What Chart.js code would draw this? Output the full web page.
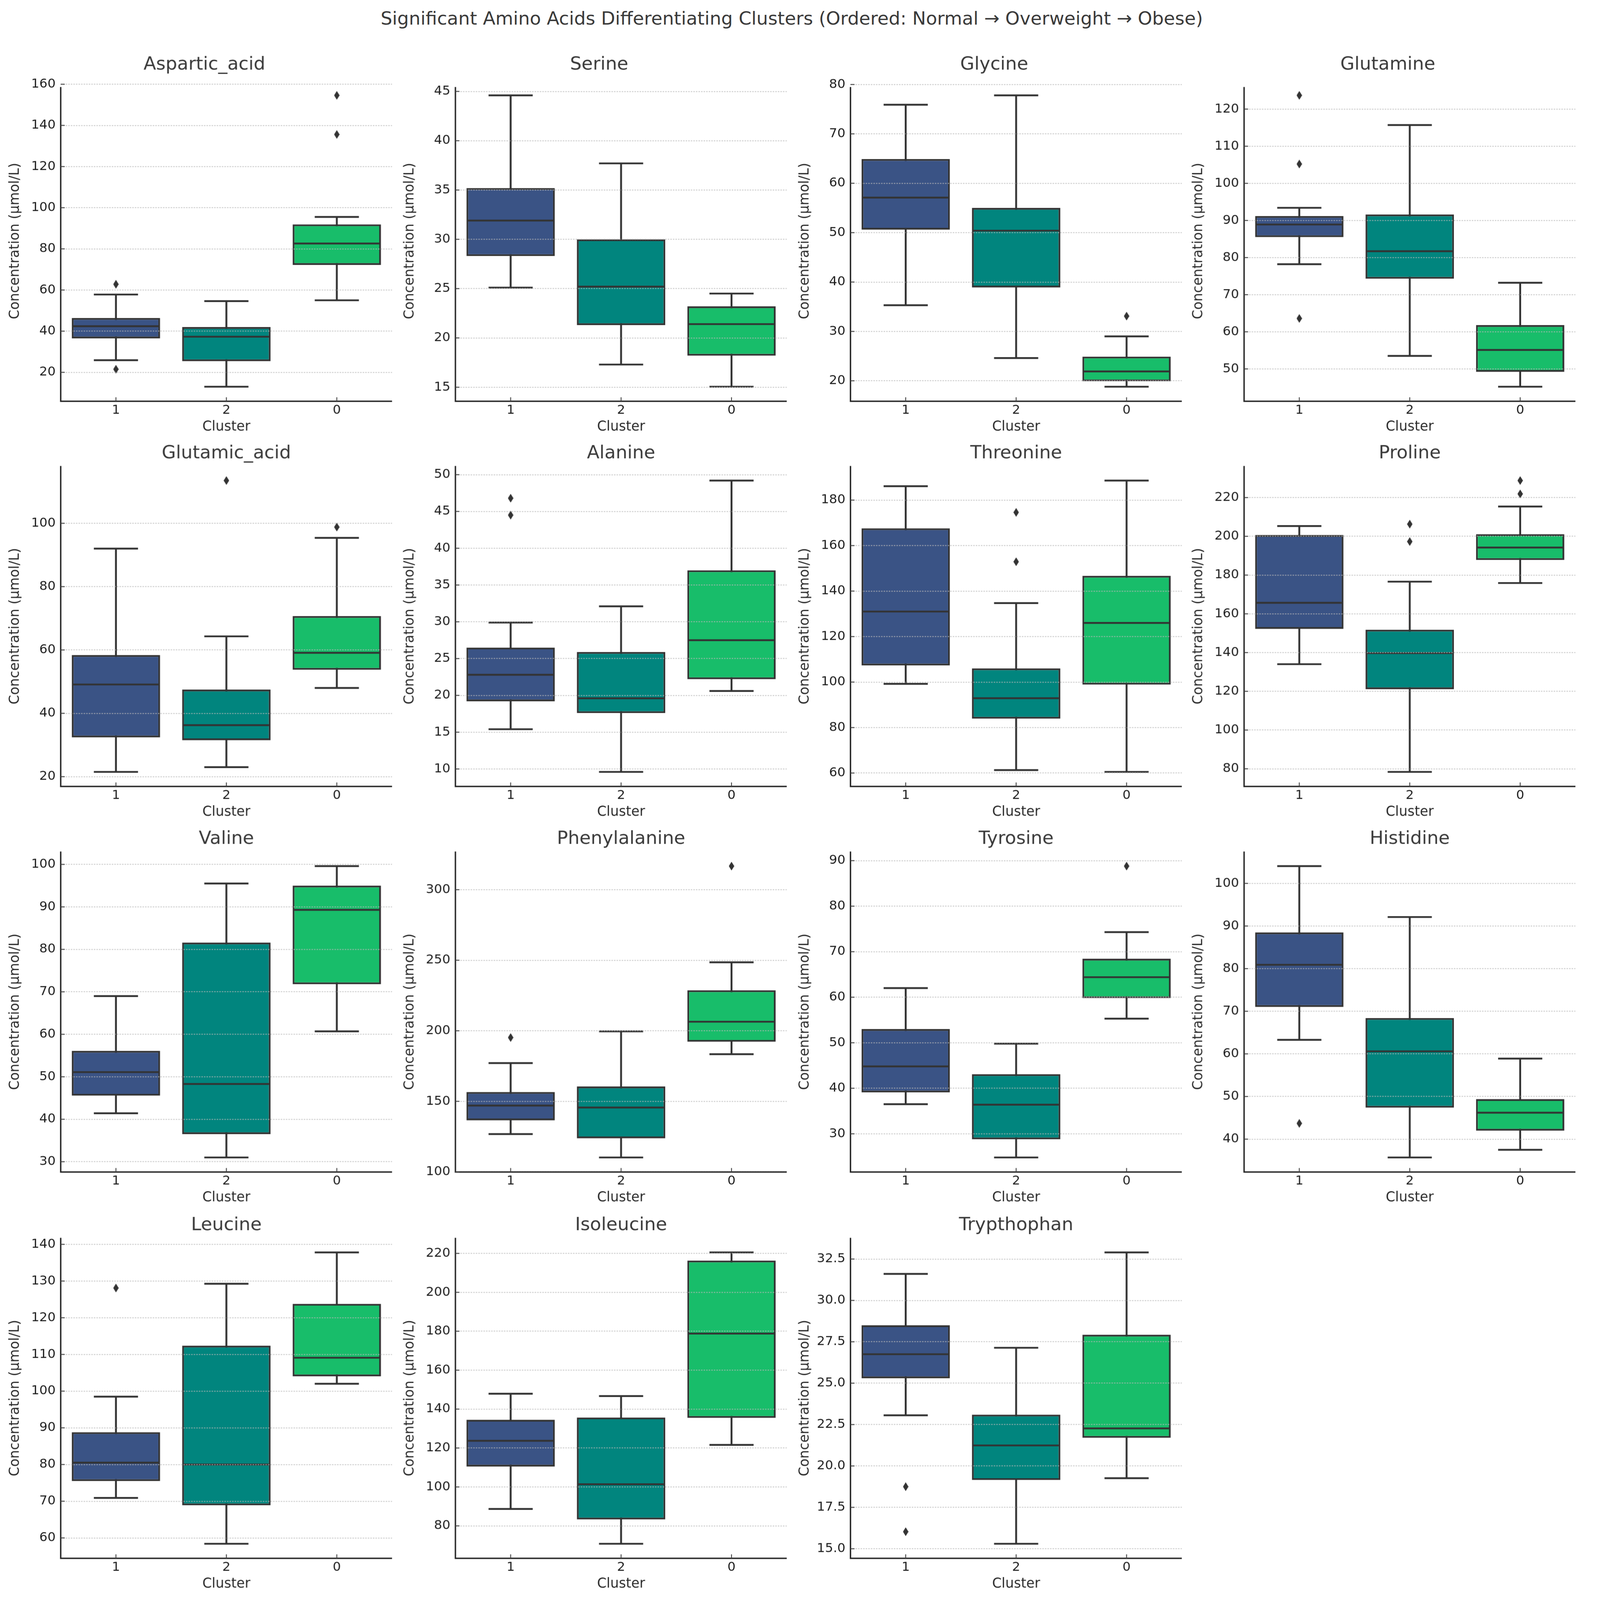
<!DOCTYPE html>
<html>
<head>
<meta charset="utf-8">
<script src="https://cdn.jsdelivr.net/npm/chart.js@4.4.1/dist/chart.umd.min.js"></script>
<style>
html,body{margin:0;padding:0;background:#ffffff;overflow:hidden;}
#fig{position:absolute;left:0;top:0;width:4333px;height:4378px;transform-origin:0 0;background:#fff;font-family:"DejaVu Sans";}
#suptitle{position:absolute;left:0;width:4333px;top:20px;text-align:center;font-size:50px;line-height:60px;color:#3a3a3a;font-family:"DejaVu Sans";white-space:nowrap;}
canvas{position:absolute;}
</style>
</head>
<body>
<div id="fig">
<div id="suptitle">Significant Amino Acids Differentiating Clusters (Ordered: Normal → Overweight → Obese)</div>
</div>
<script>
// ---------------- DATA ----------------
const clusters = ['1', '2', '0'];
const aminoAcids = ['Aspartic_acid', 'Serine', 'Glycine', 'Glutamine', 'Glutamic_acid', 'Alanine',
  'Threonine', 'Proline', 'Valine', 'Phenylalanine', 'Tyrosine', 'Histidine', 'Leucine', 'Isoleucine', 'Trypthophan'];

// values per amino acid, ordered by cluster [1, 2, 0]
const q1Values = [
  [36.5, 25.4, 72.2], [28.3, 21.3, 18.2], [50.6, 38.9, 19.9], [85.5, 74.3, 49.2], [32.4, 31.5, 53.75],
  [19.2, 17.6, 22.2], [107.3, 83.9, 98.9], [152.2, 121.1, 187.8], [45.55, 36.5, 71.8], [136.5, 123.8, 192.2],
  [39.1, 28.8, 59.8], [71.0, 47.4, 42.0], [75.5, 68.9, 104.05], [110.5, 83.3, 135.5], [25.3, 19.15, 21.7]
];
const medianValues = [
  [42.4, 37.3, 82.6], [31.9, 25.2, 21.4], [57.1, 50.4, 21.9], [88.9, 81.7, 55.1], [49.1, 36.25, 59.1],
  [22.8, 19.6, 27.5], [131.0, 92.9, 126.0], [165.7, 139.7, 194.2], [51.1, 48.3, 89.3], [147.0, 145.6, 206.4],
  [44.8, 36.4, 64.4], [80.9, 60.6, 46.2], [80.5, 80.0, 109.1], [123.7, 101.4, 178.8], [26.75, 21.24, 22.27]
];
const q3Values = [
  [46.4, 42.0, 91.9], [35.2, 30.0, 23.2], [64.9, 55.0, 24.9], [91.2, 91.6, 61.8], [58.4, 47.5, 70.7],
  [26.5, 25.9, 37.0], [167.6, 106.0, 146.7], [200.7, 151.8, 201.1], [56.1, 81.6, 95.0], [156.6, 160.5, 228.7],
  [53.0, 43.1, 68.45], [88.5, 68.4, 49.4], [88.8, 112.4, 123.8], [134.5, 135.7, 216.3], [28.5, 23.1, 27.93]
];
const whiskerLow = [
  [25.9, 13.0, 55.0], [25.1, 17.3, 15.05], [35.3, 24.6, 18.8], [78.2, 53.5, 45.2], [21.5, 23.0, 48.0],
  [15.4, 9.6, 20.6], [99.2, 61.3, 60.5], [134.0, 78.4, 175.9], [41.4, 31.0, 60.7], [126.8, 110.2, 183.4],
  [36.5, 24.8, 55.3], [63.3, 35.7, 37.5], [70.9, 58.4, 102.0], [88.7, 70.8, 121.6], [23.06, 15.3, 19.26]
];
const whiskerHigh = [
  [57.8, 54.6, 95.5], [44.6, 37.7, 24.5], [75.9, 77.8, 29.0], [93.4, 115.7, 73.2], [92.0, 64.3, 95.4],
  [29.9, 32.1, 49.2], [186.1, 134.7, 188.6], [205.3, 176.6, 215.4], [69.0, 95.5, 99.6], [177.1, 199.6, 248.5],
  [62.0, 49.8, 74.3], [104.05, 92.1, 58.9], [98.5, 129.25, 137.8], [147.9, 146.7, 220.5], [31.6, 27.14, 32.9]
];
const outlierValues = [
  [[62.8, 21.5], [], [154.6, 135.6]],
  [[], [], []],
  [[], [], [33.1]],
  [[123.7, 105.2, 63.6], [], []],
  [[], [113.5], [98.8]],
  [[46.8, 44.5], [], []],
  [[], [174.6, 152.9], []],
  [[], [206.3, 197.3], [228.8, 221.9]],
  [[], [], []],
  [[195.2], [], [316.7]],
  [[], [], [88.8]],
  [[43.7], [], []],
  [[128.1], [], []],
  [[], [], []],
  [[18.75, 16.03], [], []]
];
const tickSteps = [20, 5, 10, 10, 20, 5, 20, 20, 10, 50, 10, 10, 10, 20, 2.5];
const yAxisLabel = 'Concentration (µmol/L)';
const xAxisLabel = 'Cluster';

// ---------------- STYLE / LAYOUT ----------------
const boxColors = ['#3a5385', '#01857e', '#18bd6a'];
const edgeColor = '#333333';
const textColor = '#1e1e1e';
const titleColor = '#3a3a3a';
const colLefts = [166, 1246, 2327, 3404];
const rowTops = [221, 1275, 2330, 3387];
const AX_W = 906, AX_H = 877, LEFT_W = 166, TOP_H = 100, BOTTOM_H = 110, RIGHT_PAD = 20;

// fit the 4333 x 4378 figure into the actual viewport
const fig = document.getElementById('fig');
const vw = window.innerWidth || 4333;
const vh = window.innerHeight || 4378;
const S = Math.min(vw / 4333, vh / 4378);
fig.style.transform = 'scale(' + S + ')';
const DPR = (window.devicePixelRatio || 1) * S;

Chart.defaults.font.family = 'DejaVu Sans';

function makeDiamond() {
  const c = document.createElement('canvas');
  c.width = 15; c.height = 24;
  const g = c.getContext('2d');
  g.fillStyle = edgeColor;
  g.beginPath(); g.moveTo(7.5, 0); g.lineTo(15, 12); g.lineTo(7.5, 24); g.lineTo(0, 12); g.closePath(); g.fill();
  return c;
}
const diamond = makeDiamond();

// spines (left + bottom) and inward tick marks, placed from the library's scales
const axesDecor = {
  id: 'axesDecor',
  afterDraw(chart, args, opts) {
    const {ctx, chartArea: a, scales: {x, y}} = chart;
    const spineTop = a.top + (opts.spineInset || 0);
    ctx.save();
    ctx.strokeStyle = '#222222';
    ctx.lineCap = 'butt';
    ctx.lineWidth = 3.8;
    ctx.beginPath();
    ctx.moveTo(a.left, spineTop); ctx.lineTo(a.left, a.bottom); ctx.lineTo(a.right, a.bottom);
    ctx.stroke();
    ctx.lineWidth = 2.5;
    ctx.strokeStyle = '#444444';
    x.ticks.forEach((t, i) => {
      const px = x.getPixelForTick(i);
      ctx.beginPath(); ctx.moveTo(px, a.bottom); ctx.lineTo(px, a.bottom - 11); ctx.stroke();
    });
    y.ticks.forEach((t, i) => {
      const py = y.getPixelForTick(i);
      ctx.beginPath(); ctx.moveTo(a.left, py); ctx.lineTo(a.left + 11, py); ctx.stroke();
    });
    ctx.restore();
  }
};

const catWidth = (chart) => chart.chartArea ? chart.chartArea.width / clusters.length : 0;

aminoAcids.forEach((name, i) => {
  const col = i % 4, row = Math.floor(i / 4);
  const firstRow = row === 0;
  const canvas = document.createElement('canvas');
  const W = LEFT_W + AX_W + RIGHT_PAD, H = TOP_H + AX_H + BOTTOM_H;
  canvas.style.width = W + 'px'; canvas.style.height = H + 'px';
  canvas.style.left = (colLefts[col] - LEFT_W) + 'px';
  canvas.style.top = (rowTops[row] - TOP_H) + 'px';
  canvas.width = W; canvas.height = H;
  fig.appendChild(canvas);

  // axis limits: data range with 5% margins
  const all = [].concat(whiskerLow[i], whiskerHigh[i], ...outlierValues[i]);
  const dmin = Math.min(...all), dmax = Math.max(...all);
  const margin = (dmax - dmin) * 0.05;
  const step = tickSteps[i];

  const capsData = [];
  clusters.forEach((c, j) => {
    capsData.push({x: c, y: whiskerLow[i][j]});
    capsData.push({x: c, y: whiskerHigh[i][j]});
  });
  const outData = [];
  clusters.forEach((c, j) => outlierValues[i][j].forEach(v => outData.push({x: c, y: v})));

  // first row: title sits a little left of the axes centre (as in the reference)
  const padLeft = firstRow ? 46 : 0;

  new Chart(canvas, {
    type: 'bar',
    data: {
      labels: clusters,
      datasets: [
        {
          type: 'bar', label: 'whiskers',
          data: clusters.map((c, j) => [whiskerLow[i][j], whiskerHigh[i][j]]),
          backgroundColor: edgeColor, borderWidth: 0, barThickness: 4.5, grouped: false, order: 5
        },
        {
          type: 'bar', label: 'box',
          data: clusters.map((c, j) => [q1Values[i][j], q3Values[i][j]]),
          backgroundColor: boxColors, borderColor: edgeColor, borderWidth: 5, borderSkipped: false,
          categoryPercentage: 0.8, barPercentage: 1.0, grouped: false, order: 4
        },
        {
          type: 'line', label: 'median',
          data: clusters.map((c, j) => ({x: c, y: medianValues[i][j]})),
          showLine: false, pointStyle: 'line',
          pointRadius: (ctx) => catWidth(ctx.chart) * 0.4 - 2,
          pointBorderColor: edgeColor, pointBorderWidth: 5, order: 3
        },
        {
          type: 'line', label: 'caps', data: capsData,
          showLine: false, pointStyle: 'line',
          pointRadius: (ctx) => catWidth(ctx.chart) * 0.2,
          pointBorderColor: edgeColor, pointBorderWidth: 5, order: 2
        },
        {
          type: 'line', label: 'outliers', data: outData,
          showLine: false, pointStyle: diamond, pointRadius: 8, order: 1
        }
      ]
    },
    options: {
      responsive: false,
      maintainAspectRatio: false,
      devicePixelRatio: DPR,
      animation: false,
      events: [],
      layout: {padding: {left: padLeft, right: RIGHT_PAD, top: 0, bottom: 0}},
      plugins: {
        legend: {display: false},
        tooltip: {enabled: false},
        axesDecor: {spineInset: firstRow ? 17 : 0},
        title: {
          display: true, text: name, color: titleColor,
          fullSize: firstRow,
          font: {size: 50, weight: 'normal', family: 'DejaVu Sans', lineHeight: 1.2},
          padding: firstRow ? {top: 27, bottom: 13} : {top: 36, bottom: 4}
        }
      },
      scales: {
        x: {
          type: 'category', offset: true,
          afterFit: (s) => { s.height = BOTTOM_H; },
          ticks: {color: textColor, font: {size: 35}, padding: 4},
          grid: {display: false, drawOnChartArea: false, drawTicks: false},
          border: {display: false},
          title: {display: true, text: xAxisLabel, color: '#2a2a2a', font: {size: 37, lineHeight: 1.2}, padding: {top: 0, bottom: 17}}
        },
        y: {
          type: 'linear',
          min: dmin - margin, max: dmax + margin,
          afterFit: (s) => { s.width = LEFT_W - padLeft; },
          ticks: {
            stepSize: step, includeBounds: false, color: textColor, font: {size: 35}, padding: 14,
            callback: (v) => step % 1 !== 0 ? Number(v).toFixed(1) : String(Math.round(v))
          },
          grid: {display: true, drawTicks: false, color: 'rgba(185,185,185,0.7)', lineWidth: 2.6, z: 1},
          border: {display: false, dash: [4, 3]},
          title: {display: true, text: yAxisLabel, color: '#2a2a2a', font: {size: 37, lineHeight: 1.2}, padding: {top: 19 - padLeft, bottom: 0}}
        }
      }
    },
    plugins: [axesDecor]
  });
});
</script>
</body>
</html>
